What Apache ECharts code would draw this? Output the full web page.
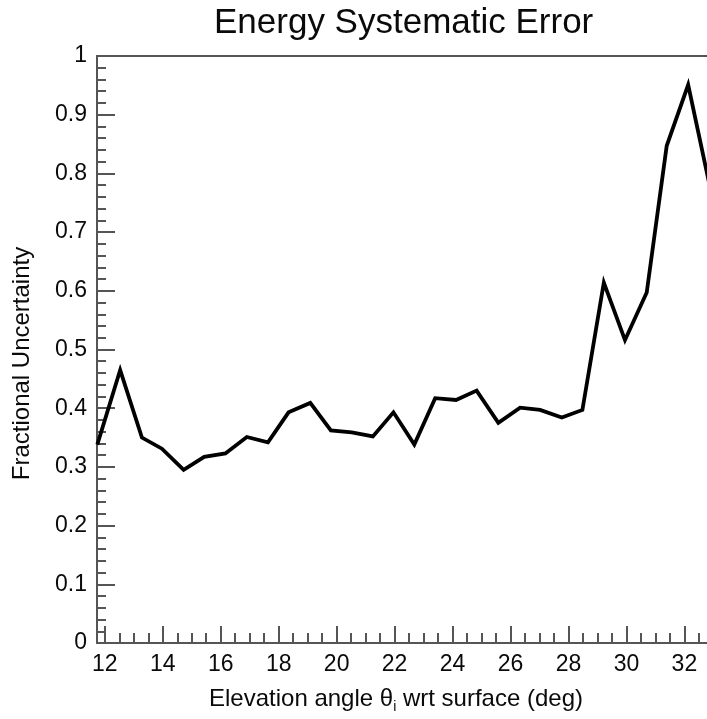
<!DOCTYPE html>
<html>
<head>
<meta charset="utf-8">
<script src="https://cdn.jsdelivr.net/npm/echarts@6/dist/echarts.min.js"></script>
<style>html,body{margin:0;padding:0;background:#fff}#c{width:707px;height:719px}</style>
</head>
<body>
<div id="c"></div>
<script>
// Data
const angles = [11.74, 12.53, 13.28, 13.97, 14.72, 15.43, 16.16, 16.90, 17.63, 18.34, 19.09, 19.80, 20.52, 21.25, 21.96, 22.68, 23.40, 24.12, 24.83, 25.58, 26.33, 27.02, 27.77, 28.48, 29.22, 29.95, 30.70, 31.39, 32.13, 32.86];
const uncertainty = [0.338, 0.465, 0.350, 0.331, 0.295, 0.317, 0.323, 0.351, 0.342, 0.393, 0.409, 0.362, 0.359, 0.352, 0.393, 0.338, 0.417, 0.414, 0.430, 0.375, 0.401, 0.397, 0.384, 0.397, 0.614, 0.516, 0.597, 0.847, 0.951, 0.782];
const xMajorTicks = [12, 14, 16, 18, 20, 22, 24, 26, 28, 30, 32];
const xMinorTicks = [12.5, 13, 13.5, 14.5, 15, 15.5, 16.5, 17, 17.5, 18.5, 19, 19.5, 20.5, 21, 21.5, 22.5, 23, 23.5, 24.5, 25, 25.5, 26.5, 27, 27.5, 28.5, 29, 29.5, 30.5, 31, 31.5, 32.5];
const xRange = [11.73, 32.78];
const yRange = [0, 1];

const FONT = 'Liberation Sans, Arial, Helvetica, sans-serif';
const AXIS_COLOR = '#555';
const TEXT_COLOR = '#0a0a0a';

const chart = echarts.init(document.getElementById('c'), null, {renderer: 'canvas'});
chart.setOption({
  animation: false,
  backgroundColor: '#fff',
  title: {
    text: 'Energy Systematic Error',
    left: 209, top: 1,
    textStyle: {fontFamily: FONT, fontSize: 35, fontWeight: 'normal', color: TEXT_COLOR}
  },
  grid: {left: 97, right: 0, top: 56, bottom: 69, containLabel: false},
  xAxis: [
    {
      type: 'value', position: 'bottom', min: xRange[0], max: xRange[1],
      axisLine: {show: true, lineStyle: {color: AXIS_COLOR, width: 2}},
      axisTick: {show: true, inside: true, length: 17, customValues: xMajorTicks, lineStyle: {color: AXIS_COLOR, width: 2}},
      axisLabel: {show: true, customValues: xMajorTicks, margin: 10, fontFamily: FONT, fontSize: 23, color: TEXT_COLOR},
      splitLine: {show: false},
      name: '{a|Elevation angle θ}{s|i}{a| wrt surface (deg)}',
      nameLocation: 'middle', nameGap: 42,
      nameTextStyle: {
        padding: [0, 12, 0, 0],
        rich: {
          a: {fontFamily: FONT, fontSize: 24, color: TEXT_COLOR},
          s: {fontFamily: FONT, fontSize: 14, color: TEXT_COLOR, padding: [15, 0, 0, 0]}
        }
      }
    },
    {
      type: 'value', position: 'bottom', min: xRange[0], max: xRange[1],
      axisLine: {show: false},
      axisTick: {show: true, inside: true, length: 10, customValues: xMinorTicks, lineStyle: {color: AXIS_COLOR, width: 2}},
      axisLabel: {show: false},
      splitLine: {show: false}
    },
    {
      type: 'value', position: 'top', min: xRange[0], max: xRange[1],
      axisLine: {show: true, lineStyle: {color: AXIS_COLOR, width: 2}},
      axisTick: {show: false}, axisLabel: {show: false}, splitLine: {show: false}
    }
  ],
  yAxis: {
    type: 'value', min: yRange[0], max: yRange[1], interval: 0.1,
    axisLine: {show: true, lineStyle: {color: AXIS_COLOR, width: 2}},
    axisTick: {show: true, inside: true, length: 18, lineStyle: {color: AXIS_COLOR, width: 2}},
    minorTick: {show: true, splitNumber: 5, length: 9, lineStyle: {color: AXIS_COLOR, width: 2}},
    axisLabel: {margin: 10, fontFamily: FONT, fontSize: 23, color: TEXT_COLOR,
      formatter: v => String(Math.round(v * 10) / 10)},
    splitLine: {show: false}, minorSplitLine: {show: false},
    name: 'Fractional Uncertainty', nameLocation: 'middle', nameGap: 63,
    nameTextStyle: {fontFamily: FONT, fontSize: 24, color: TEXT_COLOR, padding: [0, 28, 0, 0]}
  },
  series: [{
    type: 'line', xAxisIndex: 0,
    data: angles.map((a, i) => [a, uncertainty[i]]),
    showSymbol: false, symbol: 'none',
    lineStyle: {color: '#000', width: 3.8, join: 'miter'},
    clip: true
  }]
});
</script>
</body>
</html>
